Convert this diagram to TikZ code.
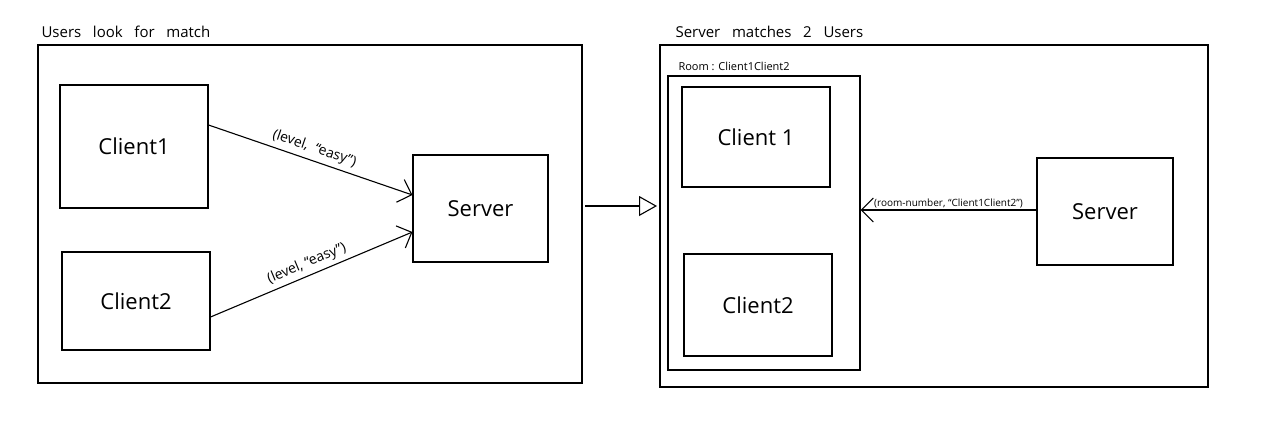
\documentclass[tikz,border=0pt]{standalone}
\usepackage{fontspec}
\setmainfont{Open Sans}
\usetikzlibrary{arrows.meta}
\begin{document}
\begin{tikzpicture}[x=1pt,y=-1pt,
  frame/.style={draw,line width=1.2pt},
  box/.style={draw,line width=1.1pt},
  lbl/.style={font=\fontsize{22}{24}\selectfont},
  title/.style={font=\fontsize{15}{17}\selectfont},
  small/.style={font=\fontsize{14}{16}\selectfont},
  tiny/.style={font=\fontsize{10}{12}\selectfont},
  msg/.style={line width=1.1pt,-{Straight Barb[length=12pt,width=24pt]}},
  big/.style={line width=1.1pt,-{Triangle[open,length=18pt,width=20pt]}}]
\useasboundingbox (0,0) rectangle (1280,440);
% left panel
\node[title,anchor=south west] (t1) at (38,41) {Users\ \ \ look\ \ \ for\ \ \ match};
\draw[frame] (38,45) rectangle (582,383);
\node[box,lbl,minimum width=148pt,minimum height=123pt] (c1) at (134,146.5) {Client1};
\node[box,lbl,minimum width=148pt,minimum height=98pt] (c2) at (136,301) {Client2};
\node[box,lbl,minimum width=135pt,minimum height=107pt] (s1) at (480.5,208.5) {Server};
\draw[msg] (c1.east |- 0,125) coordinate (a1) -- (s1.west |- 0,195) coordinate (b1)
  node[midway,above=1pt,sloped,small] {(level,\ \ ``easy'')};
\draw[msg] (c2.east |- 0,317) coordinate (a2) -- (s1.west |- 0,232) coordinate (b2)
  node[midway,above=1pt,sloped,small] {(level, ``easy'')};
% transition arrow
\coordinate (p1) at (585,206);
\coordinate (p2) at (657,206);
\draw[big] (p1) -- (p2);
% right panel
\node[title,anchor=south west] (t2) at (672,41) {Server\ \ \ matches\ \ \ 2\ \ \ Users};
\draw[frame] (660,45) rectangle (1208,387);
\node[box,minimum width=192pt,minimum height=294pt] (room) at (764,223) {};
\node[font=\fontsize{11}{13}\selectfont,anchor=south west] (rl) at (675,74) {Room : Client1Client2};
\node[box,lbl,minimum width=148pt,minimum height=100pt] (c3) at (756,137) {Client 1};
\node[box,lbl,minimum width=148pt,minimum height=102pt] (c4) at (758,305) {Client2};
\node[box,lbl,minimum width=136pt,minimum height=107pt] (s2) at (1105,211.5) {Server};
\draw[msg] (s2.west |- 0,210) -- (room.east |- 0,210)
  node[midway,above,tiny,inner sep=1pt] {(room-number, ``Client1Client2'')};
\end{tikzpicture}
\end{document}
